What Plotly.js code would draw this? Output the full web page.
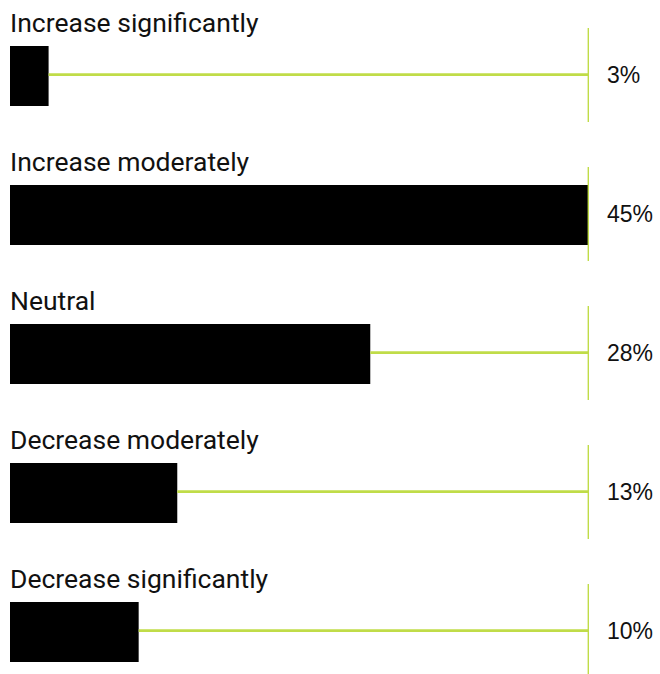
<!DOCTYPE html>
<html>
<head>
<meta charset="utf-8">
<script src="https://cdn.plot.ly/plotly-3.0.1.min.js"></script>
<style>html,body{margin:0;padding:0;background:#fff;}#chart{width:660px;height:674px;}</style>
</head>
<body>
<div id="chart"></div>
<script>
const categories = ["Increase significantly", "Increase moderately", "Neutral", "Decrease moderately", "Decrease significantly"];
const values = [3, 45, 28, 13, 10];
const valueLabels = ["3%", "45%", "28%", "13%", "10%"];

const maxVal = 45;
const pos = categories.map((c, i) => i);
const green = "#c0dc48";

const traces = [];
categories.forEach((c, i) => {
  traces.push({
    type: "scatter", mode: "lines", x: [values[i], maxVal], y: [i - 0.01, i - 0.01],
    line: {color: green, width: 2.8}, hoverinfo: "skip", showlegend: false
  });
  traces.push({
    type: "scatter", mode: "lines", x: [maxVal, maxVal], y: [i - 0.345, i + 0.33],
    line: {color: green, width: 2.8}, hoverinfo: "skip", showlegend: false
  });
});
traces.push({
  type: "bar", orientation: "h", x: values, y: pos, width: 0.432,
  marker: {color: "#000000", line: {width: 0}}, hoverinfo: "skip", showlegend: false
});

const annotations = [];
categories.forEach((c, i) => {
  annotations.push({
    x: 0, y: i - 0.385, xref: "x", yref: "y", text: c, showarrow: false,
    xanchor: "left", yanchor: "middle", xshift: -2,
    font: {family: "Roboto, sans-serif", size: 26.5, color: "#111111"}
  });
  annotations.push({
    x: maxVal, y: i, xref: "x", yref: "y", text: valueLabels[i], showarrow: false,
    xanchor: "left", yanchor: "middle", xshift: 16, yshift: 1,
    font: {family: "'Liberation Sans', Arial, sans-serif", size: 23, color: "#111111"}
  });
});

const layout = {
  width: 660, height: 674,
  margin: {l: 10, r: 71, t: 0, b: 0, pad: 0},
  paper_bgcolor: "#ffffff", plot_bgcolor: "#ffffff",
  xaxis: {range: [0, maxVal], showgrid: false, zeroline: false, showticklabels: false, showline: false, fixedrange: true},
  yaxis: {range: [4.302, -0.547], showgrid: false, zeroline: false, showticklabels: false, showline: false, fixedrange: true},
  annotations: annotations,
  barmode: "overlay"
};

Plotly.newPlot("chart", traces, layout, {displayModeBar: false, staticPlot: true});
</script>
</body>
</html>
